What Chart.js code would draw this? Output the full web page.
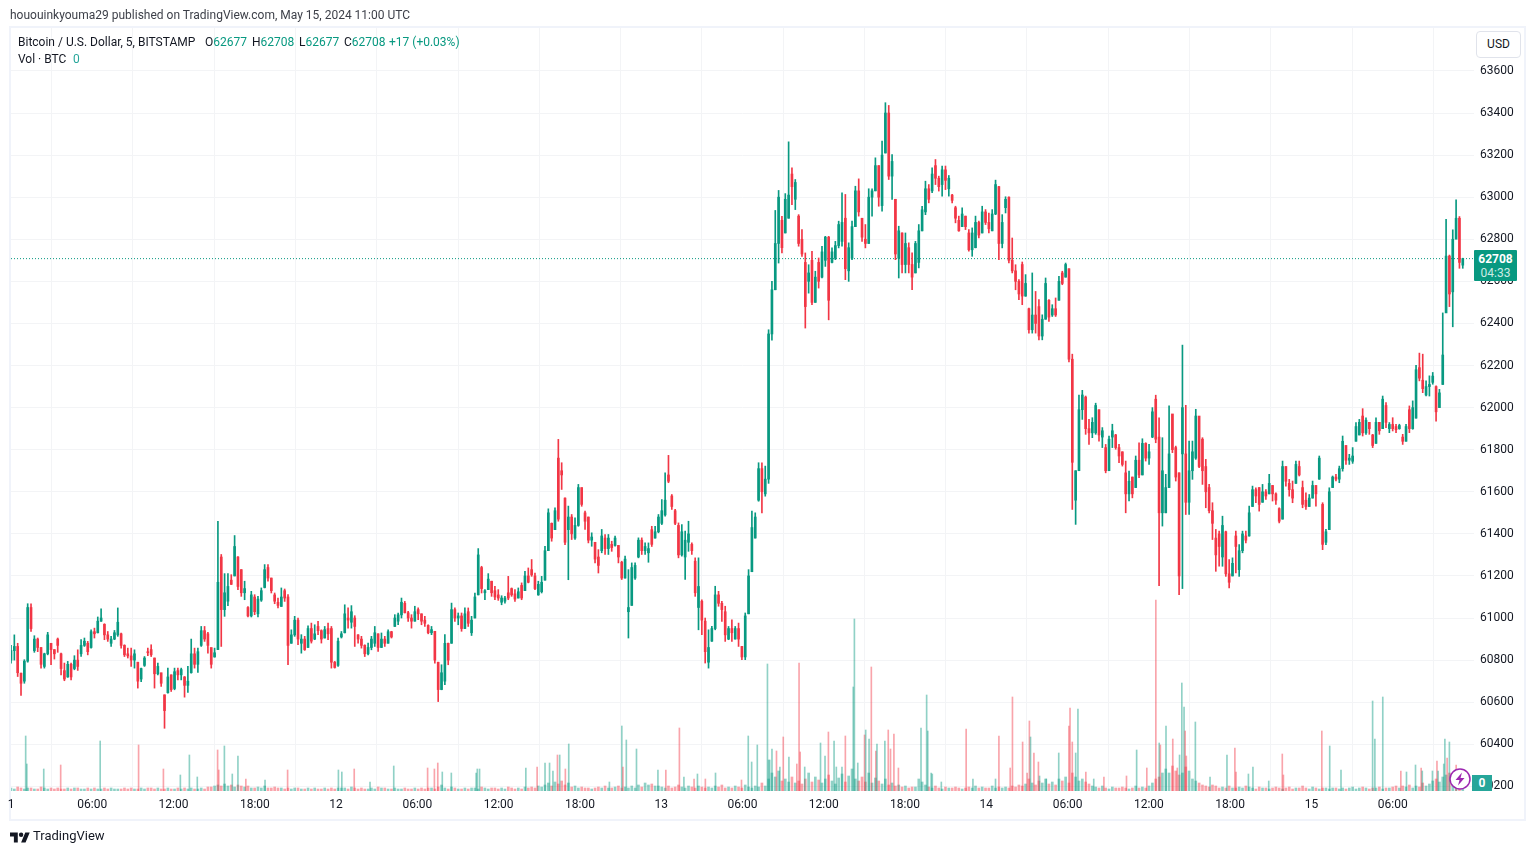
<!DOCTYPE html>
<html><head><meta charset="utf-8">
<script src="https://cdn.jsdelivr.net/npm/chart.js@4"></script>
<style>
html,body{margin:0;padding:0;background:#fff;width:1534px;height:854px;overflow:hidden}
body,div,span{font-family:Roboto,sans-serif;font-size:12px;color:#131722}
.a{position:absolute;white-space:nowrap;line-height:14px}
.u{color:#089981}
#frame{position:absolute;left:9px;top:26px;width:1513px;height:791px;border:2px solid #f0f3fa}
canvas{position:absolute;left:0;top:0}
</style></head><body>
<div id="frame"></div>
<canvas id="c" width="1534" height="854"></canvas>
<div class="a" style="left:10px;top:8px;color:#3c3f48">hououinkyouma29 published on TradingView.com, May 15, 2024 11:00 UTC</div>
<div class="a" style="left:18px;top:35px">Bitcoin / U.S. Dollar, 5, BITSTAMP</div>
<div class="a" style="left:205px;top:35px">O<span class="u">62677</span></div>
<div class="a" style="left:252px;top:35px">H<span class="u">62708</span></div>
<div class="a" style="left:299px;top:35px">L<span class="u">62677</span></div>
<div class="a" style="left:344px;top:35px">C<span class="u">62708</span></div>
<div class="a u" style="left:389px;top:35px">+17 (+0.03%)</div>
<div class="a" style="left:18px;top:52px">Vol · BTC</div>
<div class="a" style="left:73px;top:52px;color:#26a69a">0</div>
<div class="a" style="left:1476px;top:31px;width:43px;height:25px;border:1px solid #e0e3eb;border-radius:4px;text-align:center;line-height:25px;background:#fff">USD</div>
<div class="a" style="left:1474px;top:250px;width:43px;height:31px;background:#089981;border-radius:1px;text-align:center;color:#fff;line-height:14px;padding-top:2px;box-sizing:border-box"><b style="color:#fff;font-size:12px;display:block">62708</b><span style="color:#cdebe5">04:33</span></div>
<div class="a" style="left:1472px;top:775px;width:20px;height:16px;background:#26a69a;color:#fff;text-align:center;line-height:16px;font-weight:bold">0</div>
<svg style="position:absolute;left:1449px;top:768px" width="22" height="22" viewBox="0 0 22 22"><circle cx="11" cy="11" r="10" fill="#fff" stroke="#9c27b0" stroke-width="1.5"/><path d="M13 4.5L6.5 12h4l-1.5 5.5L15.5 10h-4z" fill="#9c27b0"/></svg>
<svg style="position:absolute;left:10px;top:830px" width="20" height="13" viewBox="0 0 36 22"><path d="M14 22H7V11H0V4h14v18zM28 22h-8l7.5-18h8L28 22z" fill="#131722"/><circle cx="20" cy="8" r="4" fill="#131722"/></svg>
<div class="a" style="left:33px;top:829px;font-size:13px">TradingView</div>
<script>
// Bar rows: [open, high, low, close]
const barsA=[[60800,60870,60785,60845],[60845,60920,60800,60865],[60865,60880,60722,60740],[60738,60738,60632,60690],[60700,60802,60690,60795],[60795,61068,60790,61050],[61050,61068,60936,60950],[60845,60916,60837,60900],[60900,60905,60840,60860],[60860,60860,60762,60780],
[60770,60833,60762,60830],[60830,60932,60825,60920],[60880,60880,60778,60850],[60850,60850,60805,60830],[60900,60905,60837,60870],[60830,60833,60730,60760],[60750,60786,60702,60710],[60720,60794,60718,60780],[60780,60786,60706,60720],[60760,60821,60754,60800],
[60800,60849,60751,60770],[60830,60897,60817,60870],[60870,60905,60865,60890],[60880,60889,60825,60840],[60860,60944,60857,60935],[60935,60952,60905,60925],[60930,61005,60929,60985],[60985,61044,60984,61000],[60970,60973,60897,60920],[60920,60936,60889,60900],
[60880,60913,60865,60900],[60900,60941,60897,60930],[60920,61048,60913,60980],[60925,60929,60857,60870],[60870,60873,60817,60825],[60830,60857,60810,60820],[60820,60857,60770,60800],[60800,60849,60762,60830],[60790,60790,60667,60700],[60710,60762,60698,60760],
[60775,60817,60770,60810],[60840,60857,60821,60835],[60850,60873,60817,60825],[60810,60810,60667,60735],[60735,60786,60730,60770],[60740,60738,60675,60690],[60635,60635,60476,60560],[60645,60762,60643,60720],[60730,60730,60651,60660],[60665,60762,60659,60745],
[60750,60762,60706,60730],[60730,60762,60706,60755],[60720,60722,60624,60680],[60680,60770,60646,60700],[60740,60900,60738,60830],[60830,60857,60762,60780],[60780,60857,60741,60840],[60870,60960,60865,60940],[60940,60960,60889,60900],[60925,60932,60833,60870],
[60860,60857,60762,60780],[60815,60857,60814,60835],[60850,61459,60850,61170],[61290,61302,60865,61040],[61040,61211,61008,61120],[61080,61211,61059,61150],[61180,61206,61159,61160],[61200,61392,61200,61340],[61290,61292,61135,61150],[61230,61230,61103,61120],
[61120,61175,61087,61140],[61050,61055,61005,61010],[61010,61127,61005,61110],[61100,61111,61016,61030],[61020,61103,61005,61090],[61085,61143,61079,61130],[61145,61254,61143,61230],[61240,61254,61175,61190],[61190,61190,61119,61130],[61110,61119,61068,61080],
[61075,61095,61048,61060],[61055,61143,61055,61100],[61130,61138,61079,61095],[61100,61111,60778,60870],[60880,60944,60880,60920],[60920,61008,60913,60990],[60990,61000,60873,60900],[60880,60921,60833,60900],[60900,60913,60846,60850],[60860,60963,60860,60950],
[60950,60976,60881,60890],[60900,60968,60897,60925],[60960,60984,60921,60940],[60940,60944,60881,60900],[60905,60960,60905,60945],[60950,60976,60897,60925],[60950,60960,60762,60790],[60790,60794,60762,60765],[60775,60905,60770,60890],[60910,60936,60905,60925]];
const barsB=[[60930,61063,60929,61020],[61000,61048,60952,60990],[60980,61059,60952,61030],[61000,61011,60865,60960],[60920,60921,60881,60900],[60900,60913,60857,60870],[60870,60873,60817,60830],[60830,60881,60825,60860],[60860,60913,60849,60900],[60880,60960,60865,60930],
[60925,60925,60841,60860],[60860,60929,60860,60900],[60900,60913,60865,60880],[60880,60944,60880,60935],[60935,60937,60905,60910],[60960,61016,60960,61000],[60985,61024,60968,61015],[61015,61095,61000,61075],[61070,61079,61024,61025],[61025,61032,60984,61000],
[61000,61016,60952,60985],[60985,61056,60985,61030],[61040,61048,60992,61020],[61020,61020,60968,60985],[60990,61008,60960,60975],[60965,60968,60925,60930],[60930,60960,60921,60945],[60937,60937,60786,60800],[60790,60790,60603,60660],[60660,60778,60659,60740],
[60700,60921,60683,60880],[60880,60881,60778,60800],[60880,61071,60880,61040],[61040,61048,60984,61000],[61000,61024,60968,61010],[61010,61024,60937,60950],[60950,61048,60950,61020],[61030,61048,60960,60975],[60930,61008,60917,60990],[61000,61119,61000,61100],
[61110,61330,61110,61300],[61240,61246,61119,61140],[61120,61135,61087,61130],[61135,61211,61135,61185],[61175,61175,61103,61120],[61130,61151,61087,61100],[61110,61135,61084,61095],[61075,61106,61063,61095],[61080,61103,61071,61095],[61120,61198,61087,61095],
[61140,61143,61103,61110],[61115,61135,61079,61090],[61095,61143,61095,61125],[61155,61167,61087,61095],[61130,61222,61130,61200],[61200,61238,61167,61170],[61230,61278,61198,61205],[61200,61214,61135,61140],[61110,61175,61108,61160],[61125,61198,61119,61170],
[61180,61341,61180,61320],[61320,61519,61320,61500],[61450,61452,61365,61380],[61420,61524,61420,61510],[61760,61849,61460,61470],[61700,61738,61611,61680],[61570,61571,61349,61360],[61420,61532,61182,61480],[61480,61492,61373,61400],[61380,61476,61373,61440],
[61440,61635,61436,61620],[61620,61619,61531,61540],[61500,61508,61421,61460],[61480,61480,61357,61370],[61370,61405,61341,61385],[61360,61360,61262,61280],[61290,61325,61214,61250],[61320,61421,61310,61390],[61380,61397,61302,61330],[61330,61397,61302,61380],
[61350,61365,61317,61335],[61345,61389,61341,61380],[61345,61345,61262,61290],[61265,61270,61183,61190],[61190,61294,61190,61280],[61030,61230,60905,61050],[61060,61262,61060,61240],[61190,61262,61183,61250],[61290,61381,61286,61370],[61370,61381,61302,61320],
[61320,61357,61302,61340],[61310,61357,61265,61330],[61420,61436,61340,61350],[61380,61436,61380,61410],[61410,61492,61405,61480],[61450,61563,61444,61510],[61490,61690,61484,61560],[61680,61773,61643,61650],[61580,61587,61516,61530],[61510,61516,61444,61450]];
const barsC=[[61440,61452,61286,61300],[61300,61444,61294,61410],[61290,61413,61183,61370],[61360,61460,61317,61400],[61350,61357,61302,61320],[61270,61286,61103,61120],[61050,61286,60944,61150],[61080,61087,60921,60990],[60985,61000,60786,60840],[60790,60944,60762,60860],
[60890,60960,60889,60950],[60950,61151,60944,61110],[61110,61127,61056,61070],[61070,61079,60984,61040],[61030,61056,60889,60920],[60900,60960,60897,60950],[60950,60992,60889,60930],[60900,60960,60900,60950],[60950,60976,60865,60900],[60865,60865,60802,60815],
[60815,61024,60802,61010],[61020,61230,61020,61200],[61220,61508,61220,61430],[61380,61500,61380,61480],[61560,61738,61555,61710],[61710,61738,61500,61600],[61590,61722,61579,61660],[61660,62370,61640,62350],[62350,62600,62320,62560],[62560,62937,62560,62780],
[62780,63032,62687,63000],[62890,62909,62735,62760],[62830,63017,62830,62990],[62900,63263,62900,63010],[63110,63140,62965,63050],[62990,63084,62941,63070],[62910,62917,62767,62780],[62800,62846,62719,62730],[62690,62735,62378,62480],[62600,62679,62544,62640],
[62700,62743,62489,62500],[62500,62648,62500,62620],[62690,62711,62568,62600],[62620,62767,62616,62740],[62700,62814,62671,62810],[62810,62814,62417,62510],[62690,62759,62687,62740],[62710,62790,62703,62770],[62770,62886,62759,62870],[62790,63021,62767,62880],
[62900,63013,62608,62660],[62650,62783,62600,62760],[62710,62886,62703,62860],[62860,63052,62860,63030],[63030,63087,62910,62930],[62900,62900,62790,62810],[62800,62870,62759,62780],[62780,63040,62780,63000],[63000,63040,62910,63030],[63030,63187,63030,63150],
[63150,63150,62957,63000],[62960,63267,62933,63200],[63210,63449,63210,63400],[63400,63436,63084,63100],[63100,63203,62989,63170],[62990,62990,62703,62730],[62710,62862,62616,62840],[62830,62830,62640,62680],[62680,62830,62640,62780],[62760,62783,62640,62680],
[62680,62735,62560,62620],[62640,62790,62640,62780],[62690,62870,62664,62840],[62840,62957,62840,62940],[62930,63076,62917,63040],[63040,63060,62973,62990],[63030,63140,63021,63110],[63150,63179,63060,63090],[63090,63100,63029,63050],[63060,63148,63005,63130],
[63130,63148,63036,63080],[63040,63103,63005,63090],[63010,63013,62973,62985],[62950,62957,62878,62900],[62890,62910,62838,62840],[62860,62949,62860,62920],[62910,62910,62846,62860],[62830,62846,62743,62750],[62750,62854,62719,62830],[62760,62910,62759,62880],
[62880,62886,62806,62820],[62830,62957,62830,62930],[62930,62941,62870,62880],[62880,62925,62830,62850],[62840,62941,62840,62920],[62920,63081,62917,63060],[63050,63052,62703,62780],[62780,62917,62759,62880],[62950,63002,62925,62990],[63000,63002,62687,62700]];
const barsD=[[62700,62806,62640,62650],[62650,62679,62560,62600],[62600,62608,62513,62540],[62680,62692,62489,62530],[62530,62632,62529,62590],[62470,62473,62354,62370],[62370,62640,62354,62440],[62440,62552,62354,62400],[62480,62513,62322,62340],[62340,62441,62322,62420],
[62420,62616,62420,62590],[62510,62513,62410,62430],[62440,62489,62433,62470],[62470,62521,62433,62440],[62510,62624,62510,62600],[62640,62648,62584,62590],[62620,62687,62620,62680],[62660,62660,62217,62230],[62230,62254,61516,61740],[61560,61700,61445,61700],
[61700,62059,61700,61990],[61990,62082,61944,62060],[62050,62055,61873,61900],[61900,61944,61825,61880],[61880,61952,61857,61930],[61880,62021,61873,62010],[61990,61990,61841,61870],[61860,61905,61810,61890],[61810,61825,61690,61700],[61700,61865,61700,61850],
[61860,61921,61810,61890],[61870,61873,61802,61810],[61810,61825,61738,61770],[61790,61790,61722,61730],[61690,61746,61500,61590],[61590,61698,61556,61650],[61670,61670,61571,61590],[61620,61770,61620,61750],[61750,61833,61667,61680],[61680,61852,61680,61830],
[61830,61833,61746,61760],[61760,61825,61730,61790],[61860,62000,61857,61980],[62040,62059,61833,61850],[61860,61952,61154,61500],[61500,61857,61437,61700],[61500,61683,61500,61620],[61620,62008,61620,61780],[61970,61968,61786,61800],[61810,61817,61651,61670],
[61690,61690,61111,61200],[61780,62297,61140,62000],[61780,62011,61492,61550],[61550,61841,61492,61700],[61700,61841,61659,61790],[61760,61992,61754,61960],[61960,61957,61714,61720],[61850,61857,61635,61700],[61720,61754,61524,61600],[61620,61635,61500,61510],
[61510,61548,61373,61450],[61380,61421,61222,61300],[61400,61413,61246,61340],[61290,61484,61246,61440],[61410,61413,61198,61210],[61210,61278,61143,61170],[61200,61286,61200,61260],[61390,61413,61214,61340],[61230,61349,61198,61320],[61320,61413,61310,61400],
[61390,61413,61357,61370],[61390,61532,61389,61500],[61530,61627,61530,61610],[61610,61619,61548,61580],[61620,61620,61508,61540],[61550,61635,61550,61600],[61600,61611,61564,61580],[61590,61683,61590,61640],[61630,61630,61556,61590],[61590,61595,61540,61560],
[61520,61524,61452,61460],[61470,61746,61470,61720],[61720,61720,61627,61650],[61640,61659,61579,61610],[61610,61651,61548,61570],[61640,61746,61640,61730],[61720,61746,61675,61680],[61620,61651,61524,61540],[61560,61595,61516,61530],[61530,61587,61530,61570],
[61570,61651,61570,61630],[61630,61630,61532,61590],[61660,61770,61659,61760],[61540,61548,61325,61350],[61360,61421,61349,61410],[61420,61619,61420,61600],[61620,61675,61620,61670],[61670,61683,61651,61660],[61660,61722,61643,61710],[61710,61865,61698,61840]];
const barsE=[[61820,61820,61730,61750],[61750,61778,61730,61760],[61745,61810,61735,61770],[61840,61929,61840,61910],[61870,61944,61870,61930],[61960,61995,61865,61880],[61880,61952,61873,61940],[61930,61929,61873,61900],[61870,61873,61810,61820],[61830,61952,61830,61930],
[61930,61930,61873,61890],[61900,62055,61900,62040],[62010,62024,61905,61930],[61900,61929,61881,61920],[61920,61952,61889,61900],[61910,61921,61881,61895],[61900,61921,61897,61915],[61860,61873,61825,61840],[61840,61921,61840,61910],[61990,62008,61881,61900],
[61900,62032,61897,62000],[61950,62201,61950,62180],[62190,62259,62127,62140],[62130,62254,62071,62090],[62060,62127,62055,62100],[62100,62151,62055,62110],[62120,62167,62111,62150],[62100,62103,61936,61980],[62000,62087,62000,62070],[62110,62450,62110,62250],
[62450,62895,62456,62720],[62720,62725,62480,62540],[62550,62845,62384,62800],[62800,62987,62813,62900],[62900,62908,62662,62690],[62677,62710,62662,62708]];
// Ordinary per-bar volume along the floor of the pane
const volBase=[3,2,4,3,2,3,3,2,2,4,3,2,3,2,3,2,2,3,2,3,
3,2,2,3,2,3,2,2,3,2,3,2,2,2,3,2,3,2,2,3,
2,3,3,2,3,2,2,3,2,2,3,2,3,2,3,2,2,3,2,4,
4,5,6,5,7,5,6,4,6,5,4,5,3,3,4,3,5,3,3,4,
3,3,2,3,2,3,3,2,2,3,2,3,2,2,3,2,3,2,3,3,
3,2,4,3,2,3,2,2,3,2,4,3,3,2,2,3,2,2,3,2,
2,3,2,3,2,3,3,2,4,6,3,2,4,3,2,2,3,2,3,3,
2,4,3,2,3,3,2,3,2,4,3,2,3,2,4,3,4,3,5,4,
6,8,5,9,7,10,6,8,4,5,3,4,3,3,2,3,4,3,5,3,
3,4,5,3,4,3,5,3,6,4,8,6,7,5,5,4,3,5,3,4,
6,4,3,5,4,3,5,4,3,4,3,5,4,6,3,4,3,5,4,3,
6,4,3,5,4,8,5,12,18,14,20,10,12,9,14,8,10,7,12,18,
9,14,11,8,12,16,10,7,13,17,9,15,22,12,10,14,9,18,8,13,
10,7,12,6,8,5,6,4,5,3,4,4,12,9,6,4,3,5,3,2,
4,3,3,4,3,2,3,4,3,5,3,4,3,3,5,3,4,3,4,3,
5,4,6,5,7,12,8,6,10,8,12,7,9,6,12,10,14,8,18,14,
10,12,9,7,5,4,3,5,3,2,4,3,3,4,3,2,3,5,3,4,
3,5,8,12,14,18,22,18,25,20,16,18,24,20,12,10,8,6,5,4,
6,5,3,4,3,5,3,3,4,3,5,4,3,2,4,3,3,2,3,4,
3,2,3,4,2,3,3,5,3,2,4,3,2,3,3,2,3,3,2,3,
2,3,4,2,3,4,3,2,3,3,4,2,3,3,4,5,3,5,4,6,
3,5,4,8,5,7,10,12,9,14,16,18,14,20,10,6];
// Larger single prints: [minute, volume, rising 1 / falling 0]
const volPrints=[[65,55,1],[70,27,1],[145,22,1],[220,26,0],[395,50,1],[565,46,0],[675,22,0],[750,16,1],[790,36,1],[825,14,1],[915,41,0],[920,21,0],[945,45,1],[980,17,1],[1005,35,1],[1040,12,0],[1125,11,1],[1225,21,0],[1450,21,1],[1465,19,1],[1520,22,0],[1590,9,1],[1695,25,1],[1845,23,0],[1875,22,0],[1890,28,0],[1910,19,1],[1950,18,1],[2060,18,1],[2065,22,1],[2075,22,1],[2280,23,1],[2330,24,0],[2365,28,1],[2385,28,1],[2400,20,1],[2420,36,0],[2430,36,1],[2455,22,0],[2470,47,1],[2650,9,1],[2705,65,1],[2710,24,0],[2725,51,1],[2770,42,1],[2865,21,1],[2900,21,0],[2960,63,0],[2980,14,1],[3025,12,0],[3040,17,1],[3075,12,0],[3120,18,1],[3235,11,0],
[3265,55,1],[3280,29,1],[3305,46,1],[3350,127,1],[3355,31,1],[3360,31,1],[3370,42,1],[3390,40,0],[3405,24,1],[3420,54,0],[3445,34,1],[3480,27,0],[3490,128,0],[3495,39,0],[3515,24,1],[3585,48,1],[3605,35,1],[3620,59,0],[3645,50,1],[3655,24,1],[3680,24,1],[3695,55,0],[3730,104,1],[3735,172,1],[3750,28,1],[3780,56,0],[3785,61,1],[3800,52,1],[3810,124,0],[3830,40,0],[3835,47,1],[3870,50,1],[3885,61,0],[3895,42,0],[3910,57,0],[3930,23,0],[4030,63,1],[4055,96,1],[4060,60,1],[4075,18,1],[4080,17,1],[4120,9,1],[4230,62,0],[4260,12,1],[4360,12,1],[4375,55,0],[4425,23,0],[4435,94,0],[4480,49,0],[4500,18,0],[4510,70,0],[4515,54,1],[4530,38,0],[4550,29,0],[4555,15,1],[4585,12,1],[4640,38,1],[4685,65,0],[4690,83,0],[4700,49,0],[4715,38,1],[4725,82,1],[4760,19,0],[4795,12,1],[4840,14,0],[4940,15,0],[4985,41,1],[5030,23,0],[5070,191,0],[5085,48,1],[5090,46,0],[5115,65,1],[5145,52,0],[5165,23,0],[5175,36,1],[5185,108,1],[5195,84,1],[5200,60,0],[5205,35,0],[5245,69,1],[5310,14,1],[5385,36,1],[5420,43,0],[5425,19,0],[5480,17,1],[5500,24,1],[5570,10,1],[5630,37,0],[5635,16,0],[5805,60,0],[5840,45,1],[5890,21,1],[6030,90,1],[6040,52,1],[6075,94,1],[6155,20,0],[6180,19,1],[6220,26,1],[6245,23,0],[6250,20,1],[6295,20,1],[6315,30,0],[6320,20,1],[6345,27,1],[6350,52,1],[6360,33,0],[6370,49,1],[6400,26,0]];
const timeLabels=["1","06:00","12:00","18:00","12","06:00","12:00","18:00","13","06:00","12:00","18:00","14","06:00","12:00","18:00","15","06:00"];
const priceTicks=[60200,60400,60600,60800,61000,61200,61400,61600,61800,62000,62200,62400,62600,62800,63000,63200,63400,63600];
const lastPrice=62708;
const barMinutes=14.78, labelEvery=360;

const UP='#089981',DOWN='#f23645',VUP='rgba(8,153,129,0.45)',VDOWN='rgba(242,54,69,0.45)',GRID='#f3f4f6';
const FONT='Roboto,sans-serif';
const bars=[...barsA,...barsB,...barsC,...barsD,...barsE];
const t=i=>i*barMinutes, col=b=>b[3]>=b[0]?UP:DOWN;
new Chart(document.getElementById('c'),{
 type:'bar',
 data:{datasets:[
  {order:1,label:'body',xAxisID:'x',yAxisID:'y',grouped:false,barThickness:2,borderWidth:0,
   data:bars.map((b,i)=>({x:t(i),y:[b[0],b[3]]})),backgroundColor:bars.map(col)},
  {order:2,label:'wick',xAxisID:'x',yAxisID:'y',grouped:false,barThickness:1,borderWidth:0,
   data:bars.map((b,i)=>({x:t(i),y:[b[2],b[1]]})),backgroundColor:bars.map(col)},
  {order:3,type:'line',label:'last',xAxisID:'x',yAxisID:'y',data:[{x:0,y:lastPrice},{x:6479,y:lastPrice}],
   borderColor:UP,borderWidth:1,borderDash:[1,2],pointRadius:0,fill:false},
  {order:4,label:'prints',xAxisID:'x',yAxisID:'yVol',grouped:false,barThickness:1,borderWidth:0,
   data:volPrints.map(p=>({x:p[0],y:p[1]})),backgroundColor:volPrints.map(p=>p[2]?VUP:VDOWN)},
  {order:5,label:'vol',xAxisID:'x',yAxisID:'yVol',grouped:false,barThickness:2,borderWidth:0,
   data:volBase.map((v,i)=>({x:t(i),y:v})),backgroundColor:bars.map(b=>b[3]>=b[0]?VUP:VDOWN)}
 ]},
 options:{
  responsive:false,animation:false,devicePixelRatio:1,
  layout:{padding:{left:11,top:28,right:10,bottom:35}},
  plugins:{legend:{display:false},tooltip:{enabled:false}},
  scales:{
   x:{type:'linear',offset:false,min:0,max:6479,position:'bottom',
      afterFit(s){s.height=28},border:{display:false},
      grid:{color:GRID,drawTicks:false,lineWidth:1},
      ticks:{stepSize:labelEvery,autoSkip:false,maxRotation:0,includeBounds:false,padding:7,color:'#131722',
        font:{family:FONT,size:12},
        callback:v=>timeLabels[Math.round(v/labelEvery)]}},
   y:{type:'linear',position:'right',min:60178,max:63804,
      afterBuildTicks(s){s.ticks=priceTicks.map(v=>({value:v}))},
      afterFit(s){s.width=50},border:{display:false},
      grid:{color:GRID,drawTicks:false,lineWidth:1},
      ticks:{padding:6,color:'#131722',autoSkip:false,
        font:{family:FONT,size:12},callback:v=>String(v)}},
   yVol:{type:'linear',display:false,min:0,max:763,grid:{display:false}}
  }
 }
});
</script>
</body></html>
